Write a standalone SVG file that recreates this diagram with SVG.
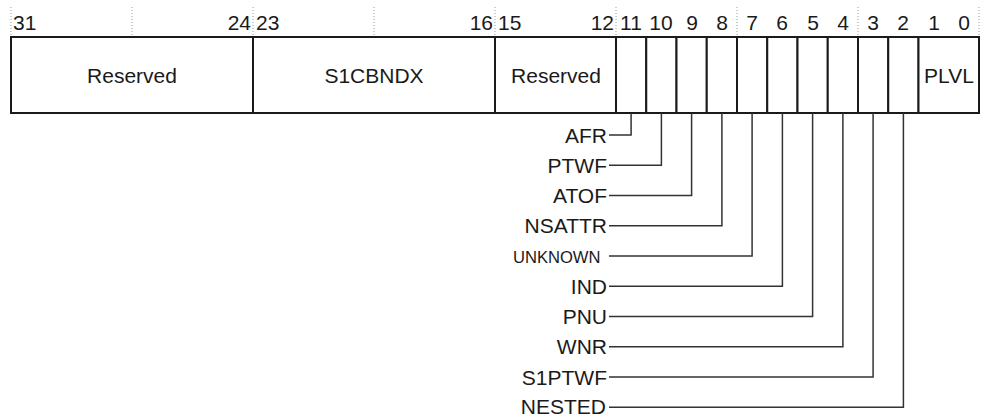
<svg xmlns="http://www.w3.org/2000/svg" width="981" height="416" viewBox="0 0 981 416">
<style>
text{font-family:"Liberation Sans",Arial,sans-serif;fill:#1a1a1a;font-size:21px}
.small{font-size:16.6px}
.box{fill:#fff;stroke:#1a1a1a;stroke-width:2}
.tick{stroke:#999;stroke-width:1;stroke-dasharray:1,2}
.conn{fill:none;stroke:#333;stroke-width:1.5}
</style>
<rect width="981" height="416" fill="#fff"/>
<g id="ticks">
<line class="tick" x1="11" y1="7" x2="11" y2="36"/>
<line class="tick" x1="132" y1="7" x2="132" y2="36"/>
<line class="tick" x1="253" y1="7" x2="253" y2="36"/>
<line class="tick" x1="374" y1="7" x2="374" y2="36"/>
<line class="tick" x1="495" y1="7" x2="495" y2="36"/>
<line class="tick" x1="616" y1="7" x2="616" y2="36"/>
<line class="tick" x1="737" y1="7" x2="737" y2="36"/>
<line class="tick" x1="858" y1="7" x2="858" y2="36"/>
<line class="tick" x1="979" y1="7" x2="979" y2="36"/>
</g>
<g id="bit-numbers">
<text x="13" y="29.5">31</text>
<text x="251" y="29.5" text-anchor="end">24</text>
<text x="256" y="29.5">23</text>
<text x="493" y="29.5" text-anchor="end">16</text>
<text x="498" y="29.5">15</text>
<text x="614" y="29.5" text-anchor="end">12</text>
<text x="631" y="29.5" text-anchor="middle">11</text>
<text x="661" y="29.5" text-anchor="middle">10</text>
<text x="692" y="29.5" text-anchor="middle">9</text>
<text x="722" y="29.5" text-anchor="middle">8</text>
<text x="752" y="29.5" text-anchor="middle">7</text>
<text x="782" y="29.5" text-anchor="middle">6</text>
<text x="813" y="29.5" text-anchor="middle">5</text>
<text x="843" y="29.5" text-anchor="middle">4</text>
<text x="873" y="29.5" text-anchor="middle">3</text>
<text x="903" y="29.5" text-anchor="middle">2</text>
<text x="934" y="29.5" text-anchor="middle">1</text>
<text x="964" y="29.5" text-anchor="middle">0</text>
</g>
<g id="field-reserved-31-24"><rect class="box" x="11" y="37" width="242" height="76"/><text x="132" y="83" text-anchor="middle">Reserved</text></g>
<g id="field-s1cbndx"><rect class="box" x="253" y="37" width="242" height="76"/><text x="374" y="83" text-anchor="middle">S1CBNDX</text></g>
<g id="field-reserved-15-12"><rect class="box" x="495" y="37" width="121" height="76"/><text x="556" y="83" text-anchor="middle">Reserved</text></g>
<g id="field-afr"><rect class="box" x="616" y="37" width="30.25" height="76"/></g>
<g id="field-ptwf"><rect class="box" x="646.25" y="37" width="30.25" height="76"/></g>
<g id="field-atof"><rect class="box" x="676.5" y="37" width="30.25" height="76"/></g>
<g id="field-nsattr"><rect class="box" x="706.75" y="37" width="30.25" height="76"/></g>
<g id="field-unknown"><rect class="box" x="737" y="37" width="30.25" height="76"/></g>
<g id="field-ind"><rect class="box" x="767.25" y="37" width="30.25" height="76"/></g>
<g id="field-pnu"><rect class="box" x="797.5" y="37" width="30.25" height="76"/></g>
<g id="field-wnr"><rect class="box" x="827.75" y="37" width="30.25" height="76"/></g>
<g id="field-s1ptwf"><rect class="box" x="858" y="37" width="30.25" height="76"/></g>
<g id="field-nested"><rect class="box" x="888.25" y="37" width="30.25" height="76"/></g>
<g id="field-plvl"><rect class="box" x="918.5" y="37" width="60.5" height="76"/><text x="949" y="83" text-anchor="middle">PLVL</text></g>
<g id="connectors">
<polyline class="conn" points="609,135 631.1,135 631.1,113"/>
<polyline class="conn" points="609,165.25 661.4,165.25 661.4,113"/>
<polyline class="conn" points="609,195.5 691.6,195.5 691.6,113"/>
<polyline class="conn" points="609,225.75 721.9,225.75 721.9,113"/>
<polyline class="conn" points="609,256 752.1,256 752.1,113"/>
<polyline class="conn" points="609,286.25 782.4,286.25 782.4,113"/>
<polyline class="conn" points="609,316.5 812.6,316.5 812.6,113"/>
<polyline class="conn" points="609,346.75 842.9,346.75 842.9,113"/>
<polyline class="conn" points="609,377 873.1,377 873.1,113"/>
<polyline class="conn" points="609,407.25 903.4,407.25 903.4,113"/>
</g>
<g id="labels">
<text x="607" y="142.5" text-anchor="end">AFR</text>
<text x="607" y="172.75" text-anchor="end">PTWF</text>
<text x="607" y="203" text-anchor="end">ATOF</text>
<text x="607" y="233.25" text-anchor="end">NSATTR</text>
<text class="small" x="600.5" y="262.5" text-anchor="end">UNKNOWN</text>
<text x="607" y="293.75" text-anchor="end">IND</text>
<text x="607" y="324" text-anchor="end">PNU</text>
<text x="607" y="354.25" text-anchor="end">WNR</text>
<text x="607" y="384.5" text-anchor="end">S1PTWF</text>
<text x="606" y="414.3" text-anchor="end">NESTED</text>
</g>
</svg>
